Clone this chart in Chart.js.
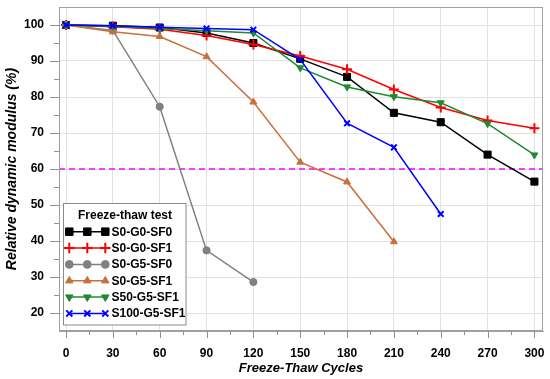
<!DOCTYPE html>
<html><head><meta charset="utf-8">
<script src="https://cdn.jsdelivr.net/npm/chart.js@4/dist/chart.umd.min.js"></script>
<style>html,body{margin:0;padding:0;background:#fff}</style>
</head><body>
<canvas id="c" width="550" height="379"></canvas>
<script>
const cycles = [0, 30, 60, 90, 120, 150, 180, 210, 240, 270, 300];
const seriesNames = ['S0-G0-SF0', 'S0-G0-SF1', 'S0-G5-SF0', 'S0-G5-SF1', 'S50-G5-SF1', 'S100-G5-SF1'];
const s0g0sf0 = [100, 99.8, 99.3, 97.8, 95.0, 90.6, 85.6, 75.6, 73.0, 64.0, 56.5];
const s0g0sf1 = [100, 99.5, 98.8, 97.1, 94.6, 91.4, 87.7, 82.1, 77.1, 73.5, 71.3];
const s0g5sf0 = [100, 98.5, 77.3, 37.4, 28.6];
const s0g5sf1 = [100, 98.1, 96.8, 91.2, 78.6, 61.9, 56.4, 39.8];
const s50g5sf1 = [100, 99.6, 99.0, 98.4, 97.8, 88.1, 82.8, 80.1, 78.4, 72.6, 63.9];
const s100g5sf1 = [100, 99.8, 99.4, 99.0, 98.7, 90.4, 72.7, 66.0, 47.5];
const limitValue = 60;
const xTickValues = [0, 30, 60, 90, 120, 150, 180, 210, 240, 270, 300];
const yTickValues = [20, 30, 40, 50, 60, 70, 80, 90, 100];
const xMinorValues = [15, 45, 75, 105, 135, 165, 195, 225, 255, 285];
const yMinorValues = [25, 35, 45, 55, 65, 75, 85, 95];
const X_MIN = -4.5, X_MAX = 305.5, Y_MIN = 15, Y_MAX = 105;
const legendTitle = 'Freeze-thaw test';
const xTitle = 'Freeze-Thaw Cycles';
const yTitle = 'Relative dynamic modulus (%)';

const FONT = "Arial, 'Liberation Sans', sans-serif";
const toPts = arr => arr.map((v, i) => ({x: cycles[i], y: v}));

const styles = [
  {color: '#000000', pointStyle: 'rect', radius: 5, fill: '#000000', rot: 0},
  {color: '#ff0000', pointStyle: 'cross', radius: 5, fill: '#ff0000', rot: 0},
  {color: '#808080', pointStyle: 'circle', radius: 3.6, fill: '#808080', rot: 0},
  {color: '#c8703c', pointStyle: 'triangle', radius: 4, fill: '#c8703c', rot: 0},
  {color: '#1f8a2e', pointStyle: 'triangle', radius: 4, fill: '#1f8a2e', rot: 180},
  {color: '#0000ff', pointStyle: 'crossRot', radius: 4, fill: '#0000ff', rot: 0}
];
const seriesData = [s0g0sf0, s0g0sf1, s0g5sf0, s0g5sf1, s50g5sf1, s100g5sf1];

const datasets = seriesData.map((d, i) => ({
  label: seriesNames[i],
  data: toPts(d),
  borderColor: styles[i].color,
  backgroundColor: styles[i].fill,
  borderWidth: 1.5,
  pointStyle: styles[i].pointStyle,
  pointRadius: styles[i].radius,
  pointRotation: styles[i].rot,
  pointBorderWidth: (styles[i].pointStyle === 'cross' || styles[i].pointStyle === 'crossRot') ? 2 : 1,
  pointBackgroundColor: styles[i].fill,
  pointBorderColor: styles[i].color,
  order: 6 - i,
  tension: 0
}));
datasets.push({
  label: 'limit',
  data: [{x: X_MIN, y: limitValue}, {x: X_MAX, y: limitValue}],
  borderColor: '#ff00ff',
  borderWidth: 1.5,
  borderDash: [6, 4],
  pointRadius: 0,
  order: 10
});

const decor = {
  id: 'decor',
  afterDraw(chart) {
    const ctx = chart.ctx, ca = chart.chartArea;
    const xs = chart.scales.x, ys = chart.scales.y;
    ctx.save();
    ctx.strokeStyle = '#a0a0a0';
    ctx.lineWidth = 1;
    ctx.strokeRect(Math.round(ca.left) + 0.5, Math.round(ca.top) + 0.5, Math.round(ca.right - ca.left) - 1, Math.round(ca.bottom - ca.top) - 1);
    ctx.strokeStyle = '#909090';
    ctx.beginPath();
    xTickValues.forEach(v => { const p = Math.round(xs.getPixelForValue(v)) + 0.5; ctx.moveTo(p, ca.bottom); ctx.lineTo(p, ca.bottom + 7); });
    xMinorValues.forEach(v => { const p = Math.round(xs.getPixelForValue(v)) + 0.5; ctx.moveTo(p, ca.bottom); ctx.lineTo(p, ca.bottom + 4); });
    yTickValues.forEach(v => { const p = Math.round(ys.getPixelForValue(v)) + 0.5; ctx.moveTo(ca.left, p); ctx.lineTo(ca.left - 9, p); });
    yMinorValues.forEach(v => { const p = Math.round(ys.getPixelForValue(v)) + 0.5; ctx.moveTo(ca.left, p); ctx.lineTo(ca.left - 5, p); });
    ctx.stroke();
    const bx = 63.5, by = 203.5, bw = 122.5, bh = 121.5;
    ctx.fillStyle = '#ffffff';
    ctx.fillRect(bx, by, bw, bh);
    ctx.strokeStyle = '#8a8a8a';
    ctx.strokeRect(bx, by, bw, bh);
    ctx.fillStyle = '#000';
    ctx.font = 'bold 12px ' + FONT;
    ctx.textAlign = 'center';
    ctx.textBaseline = 'middle';
    ctx.fillText(legendTitle, 125, 215.5);
    ctx.textAlign = 'left';
    seriesNames.forEach((name, i) => {
      const y = 231.7 + i * 16.35;
      const st = styles[i];
      ctx.strokeStyle = st.color;
      ctx.lineWidth = 1.5;
      ctx.beginPath(); ctx.moveTo(69.3, y); ctx.lineTo(105.3, y); ctx.stroke();
      [69.3, 87.3, 105.3].forEach(px => {
        ctx.fillStyle = st.fill; ctx.strokeStyle = st.color;
        ctx.lineWidth = (st.pointStyle === 'cross' || st.pointStyle === 'crossRot') ? 2 : 1;
        Chart.helpers.drawPoint(ctx, {pointStyle: st.pointStyle, radius: st.radius + 0.3, rotation: st.rot, borderWidth: ctx.lineWidth}, px, y);
      });
      ctx.fillStyle = '#000';
      ctx.font = 'bold 12px ' + FONT;
      ctx.fillText(name, 111.5, y + 0.5);
    });
    ctx.restore();
  }
};

new Chart(document.getElementById('c'), {
  type: 'line',
  data: {datasets},
  options: {
    responsive: false,
    animation: false,
    devicePixelRatio: 1,
    layout: {padding: {left: 0, top: 7, right: 7, bottom: 0}},
    plugins: {legend: {display: false}, tooltip: {enabled: false}},
    scales: {
      x: {
        type: 'linear', min: X_MIN, max: X_MAX,
        afterBuildTicks: s => { s.ticks = xTickValues.map(v => ({value: v})); },
        afterFit: s => { s.height = 48; s.paddingLeft = 0; s.paddingRight = 0; },
        grid: {color: '#e2e2e2', drawTicks: false},
        border: {display: true, color: '#a0a0a0'},
        ticks: {padding: 15, color: '#000', font: {family: FONT, size: 12, weight: 'bold'}, maxRotation: 0},
        title: {display: true, text: xTitle, color: '#000', font: {family: FONT, size: 13, weight: 'bold', style: 'italic'}, padding: {top: 0, bottom: 3}}
      },
      y: {
        type: 'linear', min: Y_MIN, max: Y_MAX,
        afterBuildTicks: s => { s.ticks = yTickValues.map(v => ({value: v})); },
        afterFit: s => { s.width = 59; s.paddingTop = 0; s.paddingBottom = 0; },
        grid: {color: '#e2e2e2', drawTicks: false},
        border: {display: true, color: '#a0a0a0'},
        ticks: {padding: 15, color: '#000', font: {family: FONT, size: 12, weight: 'bold'}},
        title: {display: true, text: yTitle, color: '#000', font: {family: FONT, size: 14, weight: 'bold', style: 'italic'}, padding: {top: 4, bottom: 0}}
      }
    }
  },
  plugins: [decor]
});
</script>
</body></html>
